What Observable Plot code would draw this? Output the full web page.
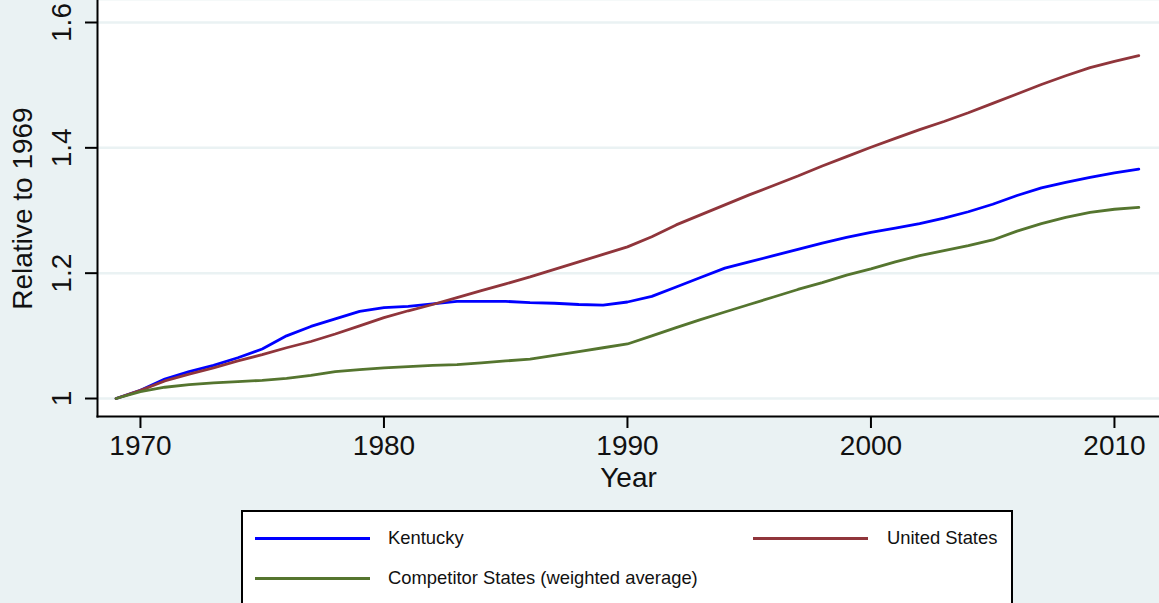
<!DOCTYPE html>
<html><head><meta charset="utf-8">
<script src="https://cdn.jsdelivr.net/npm/d3@7"></script>
<script src="https://cdn.jsdelivr.net/npm/@observablehq/plot@0.6"></script>
<style>
html,body{margin:0;padding:0;background:#EAF2F3;width:1159px;height:603px;overflow:hidden;font-family:"Liberation Sans",Arial,sans-serif;}
#chart{position:absolute;left:0;top:0;}
#legend{position:absolute;left:241px;top:510px;width:768px;height:120px;background:#fff;border:2px solid #000;}
.sw{position:absolute;width:115px;height:3px;}
.lt{position:absolute;font-size:18.4px;color:#111;line-height:18px;white-space:nowrap;}
</style>
</head><body>
<div id="chart"></div>
<div id="legend">
  <div class="sw" style="left:12px;top:25px;background:#0000FF"></div>
  <div class="lt" style="left:145px;top:17px">Kentucky</div>
  <div class="sw" style="left:510px;top:25px;background:#90353B"></div>
  <div class="lt" style="left:644px;top:17px">United States</div>
  <div class="sw" style="left:12px;top:65px;background:#55752F"></div>
  <div class="lt" style="left:145px;top:57px">Competitor States (weighted average)</div>
</div>
<script>
const years = [1969,1970,1971,1972,1973,1974,1975,1976,1977,1978,1979,1980,1981,1982,1983,1984,1985,1986,1987,1988,1989,1990,1991,1992,1993,1994,1995,1996,1997,1998,1999,2000,2001,2002,2003,2004,2005,2006,2007,2008,2009,2010,2011];
const kentucky = [1.000,1.013,1.031,1.043,1.053,1.065,1.079,1.100,1.115,1.127,1.139,1.145,1.147,1.151,1.155,1.155,1.155,1.153,1.152,1.150,1.149,1.154,1.163,1.178,1.193,1.208,1.218,1.228,1.238,1.248,1.257,1.265,1.272,1.279,1.288,1.298,1.310,1.324,1.336,1.345,1.353,1.360,1.366];
const unitedStates = [1.000,1.013,1.028,1.039,1.049,1.060,1.070,1.081,1.091,1.103,1.116,1.129,1.140,1.150,1.161,1.172,1.183,1.194,1.206,1.218,1.230,1.242,1.258,1.277,1.293,1.309,1.325,1.340,1.355,1.371,1.386,1.401,1.415,1.429,1.442,1.456,1.471,1.486,1.501,1.515,1.528,1.538,1.547];
const competitor = [1.000,1.011,1.018,1.022,1.025,1.027,1.029,1.032,1.037,1.043,1.046,1.049,1.051,1.053,1.054,1.057,1.060,1.063,1.069,1.075,1.081,1.087,1.100,1.113,1.126,1.138,1.150,1.162,1.174,1.185,1.197,1.207,1.218,1.228,1.236,1.244,1.253,1.267,1.279,1.289,1.297,1.302,1.305];
const yTicks = [1, 1.2, 1.4, 1.6];
const yTickLabels = ["1", "1.2", "1.4", "1.6"];
const xTicks = [1970, 1980, 1990, 2000, 2010];
const seriesNames = ["Kentucky", "United States", "Competitor States (weighted average)"];
const seriesColors = ["#0000FF", "#90353B", "#55752F"];

const rows = [];
[kentucky, unitedStates, competitor].forEach((vals, i) => {
  vals.forEach((v, j) => rows.push({year: years[j], value: v, series: seriesNames[i]}));
});

const chart = Plot.plot({
  width: 1159,
  height: 500,
  marginLeft: 97,
  marginRight: 0,
  marginTop: 0,
  marginBottom: 84,
  style: {background: "transparent", fontFamily: "'Liberation Sans', Arial, sans-serif", color: "#111"},
  x: {domain: [1968.236, 2011.85]},
  y: {domain: [0.9713, 1.6351]},
  color: {domain: seriesNames, range: seriesColors},
  marks: [
    Plot.frame({fill: "white", stroke: null}),
    Plot.ruleY(yTicks, {stroke: "#EAF2F3", strokeWidth: 2.5}),
    Plot.lineY(rows, {x: "year", y: "value", stroke: "series", strokeWidth: 2.8}),
    Plot.frame({anchor: "left", stroke: "#000", strokeWidth: 2}),
    Plot.frame({anchor: "bottom", stroke: "#000", strokeWidth: 2}),
    Plot.axisY(yTicks, {tickSize: 12, tickPadding: 15, tickRotate: -90, fontSize: 28, strokeWidth: 2, stroke: "#000",
      tickFormat: d => yTickLabels[yTicks.indexOf(d)],
      label: "Relative to 1969", labelAnchor: "center", labelArrow: "none", labelOffset: 85}),
    Plot.axisX(xTicks, {tickSize: 12, tickPadding: 7, fontSize: 28, strokeWidth: 2, stroke: "#000", tickFormat: d => String(d),
      label: "Year", labelAnchor: "center", labelArrow: "none", labelOffset: 70})
  ]
});
document.getElementById("chart").appendChild(chart);
</script>
</body></html>
